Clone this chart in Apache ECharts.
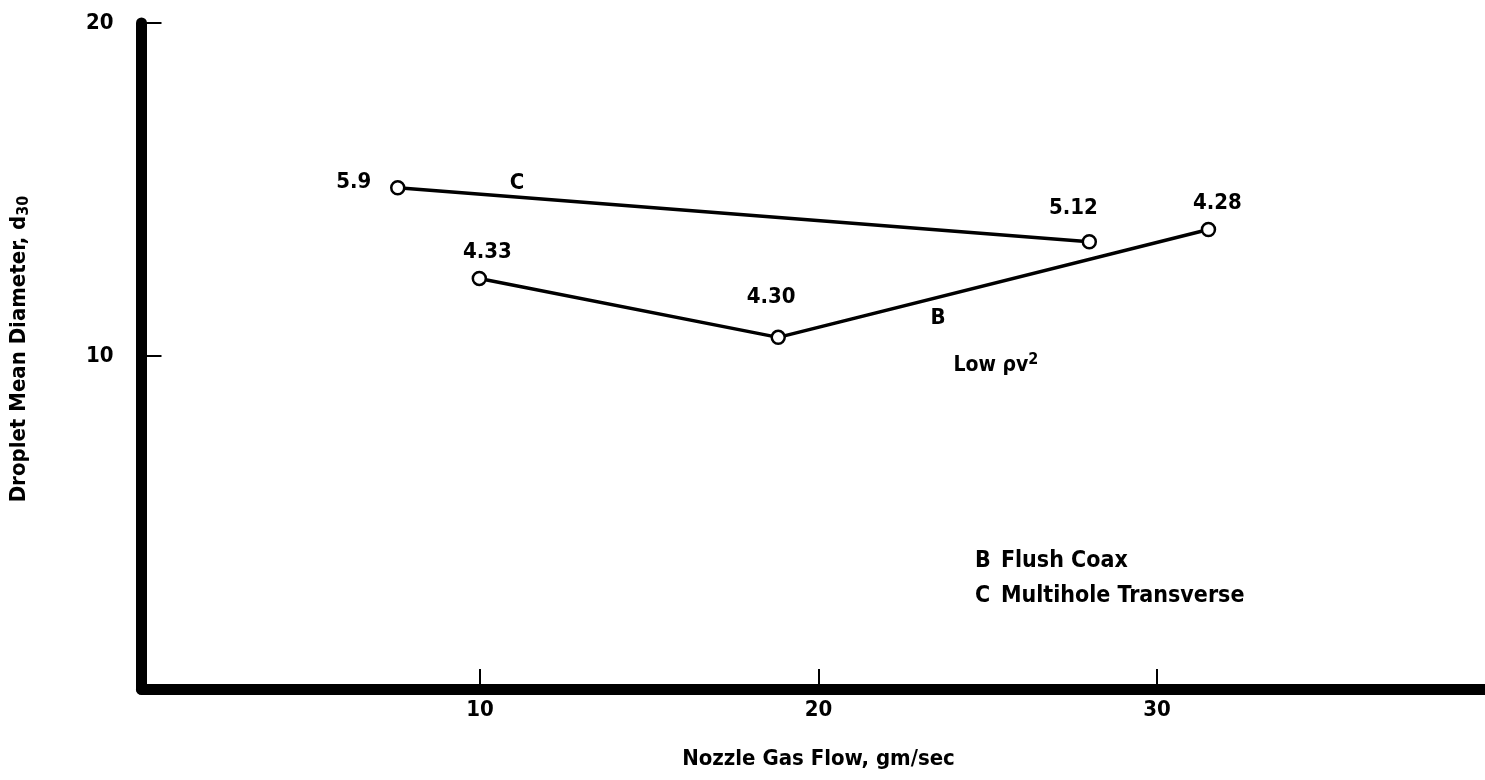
<!DOCTYPE html>
<html>
<head>
<meta charset="utf-8">
<script src="https://cdn.jsdelivr.net/npm/echarts@6/dist/echarts.min.js"></script>
<style>
html,body{margin:0;padding:0;background:#fff;}
#chart{width:1485px;height:780px;}
</style>
</head>
<body>
<div id="chart"></div>
<script>
// ---- data ----
const xTitle = 'Nozzle Gas Flow, gm/sec';
const yTitle = 'Droplet Mean Diameter, d';
const yTitleSub = '30';
const xTicks = [0, 40, 10];   // min, max, interval
const yTicks = [0, 20, 10];
const seriesC_x = [7.57, 28.0];
const seriesC_y = [15.05, 13.43];
const seriesC_labels = ['5.9', '5.12'];
const seriesB_x = [9.98, 18.81, 31.52];
const seriesB_y = [12.33, 10.56, 13.8];
const seriesB_labels = ['4.33', '4.30', '4.28'];
const annotationText = ['C', 'B'];
const annotationX = [11.09, 23.53];
const annotationY = [15.2, 11.14];
const lowText = 'Low ρv';
const lowSup = '2';
const lowX = 25.24, lowY = 9.7;
const legendKeys = ['B', 'C'];
const legendNames = ['Flush Coax', 'Multihole Transverse'];
const legendX = 24.62, legendY = 3.32;

// ---- styling (kept separate from data) ----
const FONT = "'DejaVu Sans Condensed','DejaVu Sans',sans-serif";
const labelOffsetsC = [[-44, -6], [-16, -33]];
const labelOffsetsB = [[8, -26], [-7, -40], [9, -26]];

const chart = echarts.init(document.getElementById('chart'), null, { renderer: 'canvas' });

function pts(xs, ys, labels, offsets) {
  return xs.map((x, i) => ({
    value: [x, ys[i]],
    label: { show: true, formatter: labels[i], position: 'inside', offset: offsets[i] }
  }));
}

const lineStyle = { color: '#000', width: 3.5 };
const itemStyle = { color: '#fff', borderColor: '#000', borderWidth: 2.5, opacity: 1 };
const txt = (size) => ({ color: '#000', fontSize: size, fontWeight: 'bold', fontFamily: FONT });
const labelBase = Object.assign(txt(22), { position: 'inside' });

const option = {
  animation: false,
  backgroundColor: '#fff',
  grid: { left: 141.5, top: 23, width: 1354, height: 666, containLabel: false, outerBoundsMode: 'none' },
  xAxis: {
    type: 'value', min: xTicks[0], max: xTicks[1], interval: xTicks[2],
    name: xTitle, nameLocation: 'middle', nameGap: 59,
    nameTextStyle: txt(22),
    axisLine: { show: true, onZero: false, lineStyle: { color: '#000', width: 11 } },
    axisTick: { show: true, inside: true, length: 20, lineStyle: { color: '#000', width: 2 } },
    axisLabel: Object.assign(txt(22), { margin: 10, showMinLabel: false, showMaxLabel: false }),
    splitLine: { show: false }
  },
  yAxis: {
    type: 'value', min: yTicks[0], max: yTicks[1], interval: yTicks[2],
    name: '{m|' + yTitle + '}{s|' + yTitleSub + '}', nameLocation: 'middle', nameGap: 110, nameRotate: 90,
    nameTextStyle: {
      padding: [0, 0, 0, 14],
      rich: {
        m: txt(22),
        s: Object.assign(txt(16), { verticalAlign: 'bottom', padding: [9, 0, 0, 0] })
      }
    },
    axisLine: { show: true, onZero: false, lineStyle: { color: '#000', width: 11 } },
    axisTick: { show: true, inside: true, length: 20, lineStyle: { color: '#000', width: 2 } },
    axisLabel: Object.assign(txt(22), { margin: 28, showMinLabel: false }),
    splitLine: { show: false }
  },
  series: [
    {
      type: 'line', name: 'C',
      data: pts(seriesC_x, seriesC_y, seriesC_labels, labelOffsetsC),
      symbol: 'circle', symbolSize: 13, lineStyle, itemStyle,
      label: labelBase, z: 3
    },
    {
      type: 'line', name: 'B',
      data: pts(seriesB_x, seriesB_y, seriesB_labels, labelOffsetsB),
      symbol: 'circle', symbolSize: 13, lineStyle, itemStyle,
      label: labelBase, z: 3
    },
    {
      type: 'scatter', name: 'annotations', symbolSize: 0, silent: true,
      itemStyle: { opacity: 1 },
      data: annotationText.map((t, i) => ({ value: [annotationX[i], annotationY[i]], label: { show: true, formatter: t } })),
      label: labelBase
    },
    {
      type: 'scatter', name: 'low', symbolSize: 0, silent: true,
      itemStyle: { opacity: 1 },
      data: [{ value: [lowX, lowY] }],
      label: {
        show: true, position: 'inside',
        formatter: '{a|' + lowText + '}{b|' + lowSup + '}',
        rich: {
          a: txt(21),
          b: Object.assign(txt(16), { verticalAlign: 'top', padding: [0, 0, 12, 0] })
        }
      }
    },
    {
      type: 'scatter', name: 'legend', symbolSize: 0, silent: true,
      itemStyle: { opacity: 1 },
      data: [{ value: [legendX, legendY] }],
      label: {
        show: true, position: 'right', distance: 0, align: 'left',
        formatter: legendKeys.map((k, i) => '{k|' + k + '}{n|' + legendNames[i] + '}').join('\n'),
        rich: {
          k: Object.assign(txt(23), { width: 26, lineHeight: 35 }),
          n: Object.assign(txt(23), { lineHeight: 35 })
        }
      }
    }
  ]
};
chart.setOption(option);
</script>
</body>
</html>
